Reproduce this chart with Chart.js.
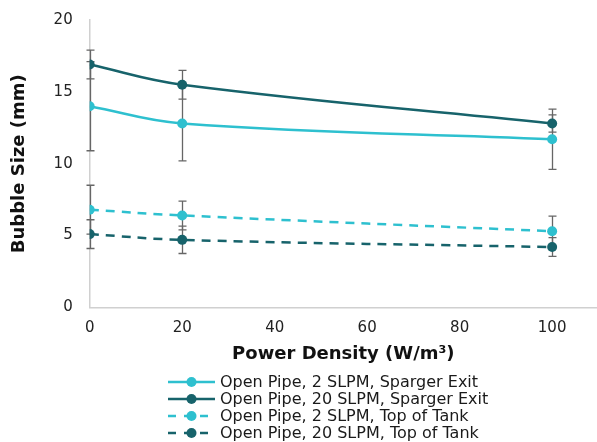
<!DOCTYPE html>
<html>
<head>
<meta charset="utf-8">
<script src="https://cdn.jsdelivr.net/npm/chart.js@4"></script>
<style>
  html, body { margin: 0; padding: 0; background: #fff; overflow: hidden; }
  #wrap { position: relative; top: -6px; width: 602px; height: 448px; }
</style>
</head>
<body>
<div id="wrap"><canvas id="bubbleChart"></canvas></div>
<script>
// --- data ---
const powerDensity = [0, 20, 100];
const xTicks = [0, 20, 40, 60, 80, 100];
const yTicks = [0, 5, 10, 15, 20];

const seriesNames = [
  'Open Pipe, 2 SLPM, Sparger Exit',
  'Open Pipe, 20 SLPM, Sparger Exit',
  'Open Pipe, 2 SLPM, Top of Tank',
  'Open Pipe, 20 SLPM, Top of Tank'
];
const exit2 = [14.0, 12.8, 11.7];
const exit20 = [16.9, 15.5, 12.8];
const top2 = [6.8, 6.4, 5.3];
const top20 = [5.1, 4.7, 4.2];

// +/- error on each point
const exit2Err = [3.1, 2.6, 2.1];
const exit20Err = [1.0, 1.0, 0.6];
const top2Err = [1.7, 1.0, 1.05];
const top20Err = [1.0, 0.95, 0.65];

const LIGHT = '#2ec0cf';
const DARK = '#17636b';
const FONT = "'DejaVu Sans', Verdana, sans-serif";

function makeSet(label, values, errs, color, dashed) {
  return {
    label: label,
    data: values.map((v, i) => ({ x: powerDensity[i], y: v })),
    errors: errs,
    borderColor: color,
    backgroundColor: color,
    pointBackgroundColor: color,
    pointBorderColor: color,
    pointBorderWidth: 0,
    pointRadius: 5,
    borderWidth: 2.5,
    borderDash: dashed ? [9, 7] : [],
    tension: 0.4,
    fill: false
  };
}

// error bars drawn behind the markers
const errorBars = {
  id: 'errorBars',
  beforeDatasetsDraw(chart) {
    const ctx = chart.ctx;
    const yScale = chart.scales.y;
    ctx.save();
    ctx.strokeStyle = '#666666';
    ctx.lineWidth = 1.3;
    chart.data.datasets.forEach((ds, di) => {
      const meta = chart.getDatasetMeta(di);
      meta.data.forEach((pt, i) => {
        const v = ds.data[i].y, e = ds.errors[i];
        const x = Math.round(pt.x) + 0.5;
        const top = yScale.getPixelForValue(v + e);
        const bot = yScale.getPixelForValue(v - e);
        ctx.beginPath();
        ctx.moveTo(x, top); ctx.lineTo(x, bot);
        ctx.moveTo(x - 4, top); ctx.lineTo(x + 4, top);
        ctx.moveTo(x - 4, bot); ctx.lineTo(x + 4, bot);
        ctx.stroke();
      });
    });
    ctx.restore();
  }
};

// one legend entry per row, below the x axis title
const stackedLegend = {
  id: 'stackedLegend',
  afterDraw(chart) {
    const ctx = chart.ctx;
    const x0 = 168, x1 = 215, textX = 220;
    const rows = [388, 405, 422, 439];
    ctx.save();
    ctx.font = '16px ' + FONT;
    ctx.textBaseline = 'middle';
    chart.data.datasets.forEach((ds, i) => {
      const y = rows[i];
      ctx.strokeStyle = ds.borderColor;
      ctx.lineWidth = 2.5;
      ctx.setLineDash(ds.borderDash.length ? [8, 8] : []);
      ctx.beginPath();
      ctx.moveTo(x0, y); ctx.lineTo(x1, y);
      ctx.stroke();
      ctx.setLineDash([]);
      ctx.fillStyle = ds.borderColor;
      ctx.beginPath();
      ctx.arc((x0 + x1) / 2, y, 5, 0, Math.PI * 2);
      ctx.fill();
      ctx.fillStyle = '#1a1a1a';
      ctx.fillText(ds.label, textX, y + 1);
    });
    ctx.restore();
  }
};

new Chart(document.getElementById('bubbleChart'), {
  type: 'line',
  data: {
    datasets: [
      makeSet(seriesNames[0], exit2, exit2Err, LIGHT, false),
      makeSet(seriesNames[1], exit20, exit20Err, DARK, false),
      makeSet(seriesNames[2], top2, top2Err, LIGHT, true),
      makeSet(seriesNames[3], top20, top20Err, DARK, true)
    ]
  },
  options: {
    responsive: true,
    maintainAspectRatio: false,
    animation: false,
    layout: { padding: { top: 0, right: 0, bottom: 77, left: 3 } },
    plugins: {
      legend: { display: false },
      tooltip: { enabled: false }
    },
    scales: {
      x: {
        type: 'linear',
        min: 0,
        max: 109.7,
        afterBuildTicks: (scale) => { scale.ticks = xTicks.map(v => ({ value: v })); },
        grid: { display: false, drawTicks: false },
        border: { color: '#d0d0d0', width: 1.5 },
        ticks: { color: '#222', padding: 12, font: { family: FONT, size: 15 } },
        title: {
          display: true,
          text: 'Power Density (W/m³)',
          color: '#111',
          padding: { top: -6, bottom: 0 },
          font: { family: FONT, size: 18, weight: 'bold' }
        }
      },
      y: {
        min: 0,
        max: 20,
        afterBuildTicks: (scale) => { scale.ticks = yTicks.map(v => ({ value: v })); },
        grid: { display: false, drawTicks: false },
        border: { color: '#d0d0d0', width: 1.5 },
        ticks: { color: '#222', padding: 17, font: { family: FONT, size: 15 } },
        title: {
          display: true,
          text: 'Bubble Size (mm)',
          color: '#111',
          padding: { top: 6, bottom: 6 },
          font: { family: FONT, size: 18, weight: 'bold' }
        }
      }
    }
  },
  plugins: [errorBars, stackedLegend]
});
</script>
</body>
</html>
